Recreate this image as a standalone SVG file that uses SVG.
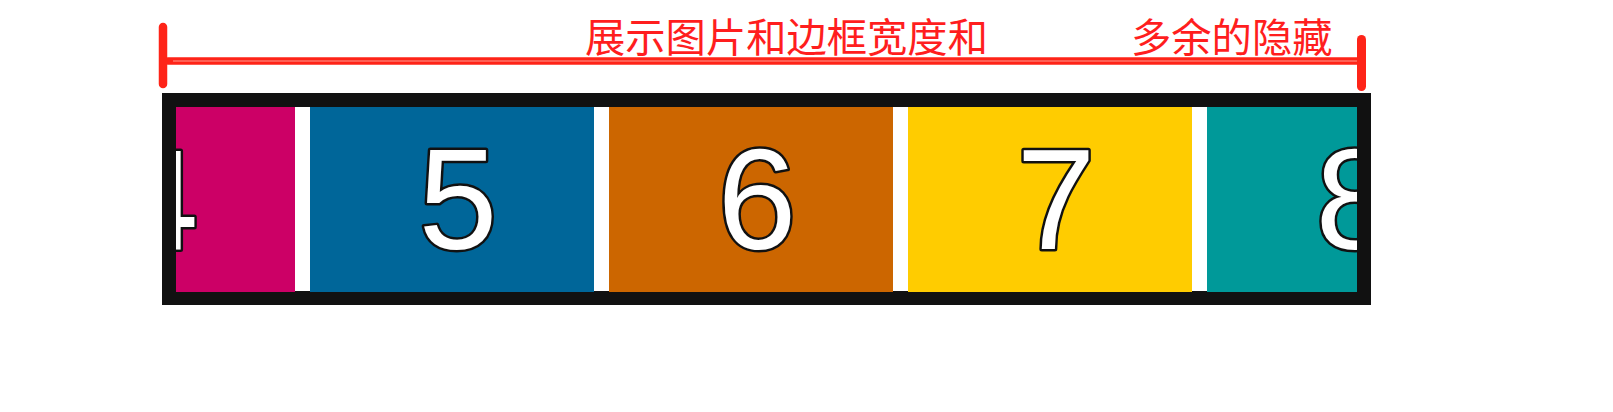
<svg xmlns="http://www.w3.org/2000/svg" width="1613" height="412" viewBox="0 0 1613 412">
<style>
.digit{font-family:"Liberation Sans",Arial,sans-serif;font-size:142px;fill:#fff;stroke:#111;stroke-width:5px;paint-order:stroke;stroke-linejoin:round;text-anchor:middle}
.lbl{font-family:"Noto Sans CJK SC","Noto Sans",sans-serif;font-size:40.3px;fill:#ff1e1e}
.bar{stroke:#fe2418;stroke-linecap:round;fill:none}
</style>
<defs>
<clipPath id="inner"><rect x="176" y="107" width="1181" height="185"/></clipPath>
</defs>
<rect width="1613" height="412" fill="#fff"/>
<g id="frame">
<rect x="169" y="100" width="1195" height="198" fill="#fff" stroke="#111" stroke-width="14"/>
</g>
<g clip-path="url(#inner)">
<g id="tile4"><rect x="11" y="107" width="284" height="185" fill="#cc0066"/><text class="digit" x="159" y="249">4</text></g>
<g id="tile5"><rect x="310" y="107" width="284" height="185" fill="#006699"/><text class="digit" x="458" y="249">5</text></g>
<g id="tile6"><rect x="609" y="107" width="284" height="185" fill="#cc6600"/><text class="digit" x="757" y="249">6</text></g>
<g id="tile7"><rect x="908" y="107" width="284" height="185" fill="#ffcc00"/><text class="digit" x="1056" y="249">7</text></g>
<g id="tile8"><rect x="1207" y="107" width="284" height="185" fill="#009999"/><text class="digit" x="1355" y="249">8</text></g>
</g>
<g id="connectors">
<line class="bar" x1="168" y1="61" x2="1361" y2="61" stroke-width="7.5"/>
<line x1="173" y1="61" x2="1357" y2="61" stroke="#ff9a90" stroke-width="1"/>
<line class="bar" x1="163" y1="27" x2="163" y2="84" stroke-width="8.5"/>
<line class="bar" x1="1361.5" y1="39.5" x2="1361.5" y2="86.5" stroke-width="9"/>
</g>
<g id="label-shown"><text class="lbl" x="585" y="52">展示图片和边框宽度和</text></g>
<g id="label-hidden"><text class="lbl" x="1131" y="52">多余的隐藏</text></g>
</svg>
